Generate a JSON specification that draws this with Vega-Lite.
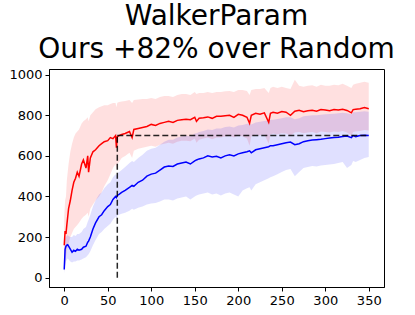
{
"$schema": "https://vega.github.io/schema/vega-lite/v6.json",
"width": 335,
"height": 218,
"autosize": "none",
"padding": {"left": 49, "top": 69, "right": 31, "bottom": 28},
"title": {"text": ["WalkerParam", "Ours +82% over Random"], "fontSize": 28, "font": "DejaVu Sans", "fontWeight": "normal", "color": "black", "lineHeight": 33, "offset": 5, "anchor": "middle"},
"config": {"view": {"stroke": "black", "strokeWidth": 1}, "font": "DejaVu Sans",
 "axis": {"grid": false, "domainColor": "black", "tickColor": "black", "labelColor": "black", "labelFontSize": 13, "labelFont": "DejaVu Sans", "tickSize": 4, "labelPadding": 3, "title": null, "domainWidth": 1, "tickWidth": 1}},
"datasets": {
"d": [
{"x":0,"rm":160,"rl":30,"rh":300,"bm":40,"bl":20,"bh":160},
{"x":1,"rm":230,"rl":60,"rh":380,"bm":140,"bl":60,"bh":190},
{"x":2,"rm":215,"rl":100,"rh":400,"bm":155,"bl":80,"bh":200},
{"x":3,"rm":260,"rl":130,"rh":480,"bm":160,"bl":90,"bh":205},
{"x":4,"rm":300,"rl":150,"rh":520,"bm":162,"bl":95,"bh":210},
{"x":5,"rm":340,"rl":170,"rh":560,"bm":155,"bl":90,"bh":205},
{"x":7,"rm":380,"rl":200,"rh":620,"bm":140,"bl":80,"bh":200},
{"x":9,"rm":430,"rl":220,"rh":660,"bm":125,"bl":75,"bh":200},
{"x":11,"rm":470,"rl":240,"rh":690,"bm":135,"bl":80,"bh":210},
{"x":13,"rm":490,"rl":250,"rh":710,"bm":130,"bl":80,"bh":205},
{"x":15,"rm":520,"rl":260,"rh":720,"bm":140,"bl":85,"bh":215},
{"x":17,"rm":500,"rl":270,"rh":730,"bm":135,"bl":85,"bh":215},
{"x":20,"rm":560,"rl":290,"rh":760,"bm":140,"bl":90,"bh":225},
{"x":22,"rm":580,"rl":300,"rh":770,"bm":150,"bl":95,"bh":240},
{"x":25,"rm":540,"rl":310,"rh":780,"bm":155,"bl":100,"bh":250},
{"x":27,"rm":600,"rl":320,"rh":790,"bm":175,"bl":110,"bh":275},
{"x":28,"rm":520,"rl":300,"rh":770,"bm":180,"bl":115,"bh":285},
{"x":30,"rm":590,"rl":340,"rh":800,"bm":200,"bl":130,"bh":310},
{"x":33,"rm":620,"rl":360,"rh":815,"bm":240,"bl":160,"bh":350},
{"x":36,"rm":630,"rl":380,"rh":830,"bm":270,"bl":185,"bh":380},
{"x":40,"rm":650,"rl":400,"rh":840,"bm":300,"bl":215,"bh":410},
{"x":43,"rm":660,"rl":420,"rh":845,"bm":310,"bl":225,"bh":420},
{"x":46,"rm":670,"rl":450,"rh":850,"bm":330,"bl":240,"bh":440},
{"x":50,"rm":675,"rl":480,"rh":850,"bm":350,"bl":255,"bh":460},
{"x":53,"rm":690,"rl":510,"rh":855,"bm":360,"bl":265,"bh":470},
{"x":56,"rm":685,"rl":540,"rh":860,"bm":385,"bl":285,"bh":495},
{"x":59,"rm":700,"rl":560,"rh":860,"bm":400,"bl":300,"bh":510},
{"x":60,"rm":640,"rl":530,"rh":840,"bm":395,"bl":290,"bh":505},
{"x":61,"rm":695,"rl":560,"rh":862,"bm":405,"bl":305,"bh":515},
{"x":63,"rm":700,"rl":570,"rh":865,"bm":410,"bl":310,"bh":520},
{"x":66,"rm":705,"rl":590,"rh":868,"bm":420,"bl":315,"bh":530},
{"x":70,"rm":710,"rl":600,"rh":870,"bm":430,"bl":320,"bh":545},
{"x":75,"rm":720,"rl":615,"rh":875,"bm":445,"bl":330,"bh":565},
{"x":78,"rm":690,"rl":590,"rh":860,"bm":455,"bl":340,"bh":575},
{"x":80,"rm":730,"rl":625,"rh":875,"bm":450,"bl":335,"bh":570},
{"x":85,"rm":735,"rl":635,"rh":878,"bm":470,"bl":345,"bh":590},
{"x":90,"rm":740,"rl":640,"rh":880,"bm":480,"bl":350,"bh":605},
{"x":95,"rm":745,"rl":645,"rh":880,"bm":500,"bl":360,"bh":625},
{"x":100,"rm":755,"rl":650,"rh":885,"bm":510,"bl":365,"bh":635},
{"x":105,"rm":750,"rl":645,"rh":880,"bm":515,"bl":368,"bh":640},
{"x":110,"rm":760,"rl":655,"rh":890,"bm":530,"bl":375,"bh":655},
{"x":115,"rm":765,"rl":660,"rh":895,"bm":545,"bl":385,"bh":670},
{"x":120,"rm":770,"rl":665,"rh":895,"bm":550,"bl":385,"bh":680},
{"x":125,"rm":765,"rl":660,"rh":890,"bm":548,"bl":380,"bh":680},
{"x":130,"rm":775,"rl":670,"rh":900,"bm":560,"bl":390,"bh":690},
{"x":135,"rm":778,"rl":675,"rh":905,"bm":565,"bl":395,"bh":695},
{"x":140,"rm":780,"rl":675,"rh":905,"bm":570,"bl":400,"bh":700},
{"x":145,"rm":778,"rl":672,"rh":900,"bm":560,"bl":385,"bh":695},
{"x":150,"rm":790,"rl":685,"rh":915,"bm":575,"bl":400,"bh":710},
{"x":152,"rm":770,"rl":665,"rh":905,"bm":580,"bl":405,"bh":712},
{"x":155,"rm":785,"rl":680,"rh":910,"bm":585,"bl":410,"bh":718},
{"x":160,"rm":788,"rl":685,"rh":910,"bm":590,"bl":415,"bh":722},
{"x":165,"rm":792,"rl":690,"rh":915,"bm":600,"bl":420,"bh":730},
{"x":170,"rm":785,"rl":682,"rh":910,"bm":595,"bl":410,"bh":728},
{"x":175,"rm":795,"rl":690,"rh":915,"bm":598,"bl":415,"bh":735},
{"x":180,"rm":795,"rl":690,"rh":915,"bm":590,"bl":405,"bh":735},
{"x":185,"rm":798,"rl":695,"rh":918,"bm":600,"bl":415,"bh":742},
{"x":190,"rm":800,"rl":698,"rh":920,"bm":605,"bl":420,"bh":745},
{"x":195,"rm":790,"rl":690,"rh":915,"bm":600,"bl":410,"bh":740},
{"x":200,"rm":805,"rl":700,"rh":925,"bm":610,"bl":400,"bh":750},
{"x":205,"rm":800,"rl":695,"rh":925,"bm":615,"bl":430,"bh":752},
{"x":210,"rm":790,"rl":685,"rh":920,"bm":620,"bl":440,"bh":758},
{"x":213,"rm":760,"rl":650,"rh":900,"bm":625,"bl":445,"bh":760},
{"x":215,"rm":800,"rl":695,"rh":925,"bm":615,"bl":430,"bh":755},
{"x":220,"rm":810,"rl":705,"rh":930,"bm":630,"bl":460,"bh":765},
{"x":225,"rm":805,"rl":700,"rh":930,"bm":635,"bl":470,"bh":768},
{"x":230,"rm":812,"rl":705,"rh":935,"bm":640,"bl":480,"bh":772},
{"x":235,"rm":765,"rl":660,"rh":910,"bm":645,"bl":490,"bh":775},
{"x":237,"rm":810,"rl":705,"rh":935,"bm":650,"bl":495,"bh":778},
{"x":240,"rm":815,"rl":710,"rh":940,"bm":650,"bl":500,"bh":778},
{"x":245,"rm":810,"rl":705,"rh":935,"bm":655,"bl":510,"bh":782},
{"x":250,"rm":818,"rl":712,"rh":940,"bm":660,"bl":520,"bh":785},
{"x":255,"rm":815,"rl":710,"rh":935,"bm":665,"bl":530,"bh":790},
{"x":260,"rm":800,"rl":700,"rh":930,"bm":668,"bl":535,"bh":790},
{"x":265,"rm":820,"rl":715,"rh":975,"bm":655,"bl":500,"bh":780},
{"x":270,"rm":825,"rl":718,"rh":945,"bm":660,"bl":520,"bh":785},
{"x":275,"rm":818,"rl":712,"rh":940,"bm":670,"bl":540,"bh":795},
{"x":280,"rm":822,"rl":715,"rh":945,"bm":675,"bl":545,"bh":798},
{"x":285,"rm":825,"rl":718,"rh":948,"bm":678,"bl":550,"bh":800},
{"x":290,"rm":820,"rl":712,"rh":940,"bm":680,"bl":548,"bh":800},
{"x":295,"rm":828,"rl":720,"rh":950,"bm":682,"bl":552,"bh":803},
{"x":300,"rm":826,"rl":718,"rh":945,"bm":685,"bl":555,"bh":805},
{"x":305,"rm":822,"rl":715,"rh":945,"bm":688,"bl":558,"bh":806},
{"x":310,"rm":828,"rl":720,"rh":950,"bm":690,"bl":560,"bh":808},
{"x":315,"rm":826,"rl":718,"rh":948,"bm":692,"bl":565,"bh":810},
{"x":320,"rm":830,"rl":722,"rh":955,"bm":695,"bl":570,"bh":812},
{"x":325,"rm":824,"rl":715,"rh":945,"bm":698,"bl":540,"bh":810},
{"x":330,"rm":812,"rl":700,"rh":935,"bm":690,"bl":555,"bh":805},
{"x":332,"rm":828,"rl":718,"rh":950,"bm":700,"bl":575,"bh":815},
{"x":335,"rm":830,"rl":720,"rh":955,"bm":695,"bl":570,"bh":815},
{"x":340,"rm":832,"rl":722,"rh":960,"bm":700,"bl":580,"bh":818},
{"x":345,"rm":838,"rl":728,"rh":965,"bm":702,"bl":590,"bh":820},
{"x":350,"rm":832,"rl":725,"rh":960,"bm":700,"bl":595,"bh":818}
],
"vline": [{"x":61,"y":0,"y2":700}],
"hline": [{"x":61,"x2":350,"y":700}]
},
"layer": [
{"data": {"name": "d"}, "mark": {"type": "area", "color": "#ff0000", "opacity": 0.12},
 "encoding": {"x": {"field": "x", "type": "quantitative", "scale": {"domain": [-17.5, 367.5], "nice": false, "zero": false}, "axis": {"values": [0,50,100,150,200,250,300,350]}},
  "y": {"field": "rl", "type": "quantitative", "scale": {"domain": [-46, 1028], "nice": false, "zero": false}, "axis": {"values": [0,200,400,600,800,1000], "format": "d"}},
  "y2": {"field": "rh"}}},
{"data": {"name": "d"}, "mark": {"type": "area", "color": "#0000ff", "opacity": 0.12},
 "encoding": {"x": {"field": "x", "type": "quantitative"}, "y": {"field": "bl", "type": "quantitative"}, "y2": {"field": "bh"}}},
{"data": {"name": "d"}, "mark": {"type": "line", "color": "#ff0000", "strokeWidth": 1.5},
 "encoding": {"x": {"field": "x", "type": "quantitative"}, "y": {"field": "rm", "type": "quantitative"}}},
{"data": {"name": "d"}, "mark": {"type": "line", "color": "#0000ff", "strokeWidth": 1.5},
 "encoding": {"x": {"field": "x", "type": "quantitative"}, "y": {"field": "bm", "type": "quantitative"}}},
{"data": {"name": "vline"}, "mark": {"type": "rule", "color": "black", "strokeWidth": 1.5, "strokeDash": [6, 3], "opacity": 0.85},
 "encoding": {"x": {"field": "x", "type": "quantitative"}, "y": {"field": "y", "type": "quantitative"}, "y2": {"field": "y2"}}},
{"data": {"name": "hline"}, "mark": {"type": "rule", "color": "black", "strokeWidth": 1.5, "strokeDash": [6, 3], "opacity": 0.85},
 "encoding": {"x": {"field": "x", "type": "quantitative"}, "x2": {"field": "x2"}, "y": {"field": "y", "type": "quantitative"}}}
]
}
